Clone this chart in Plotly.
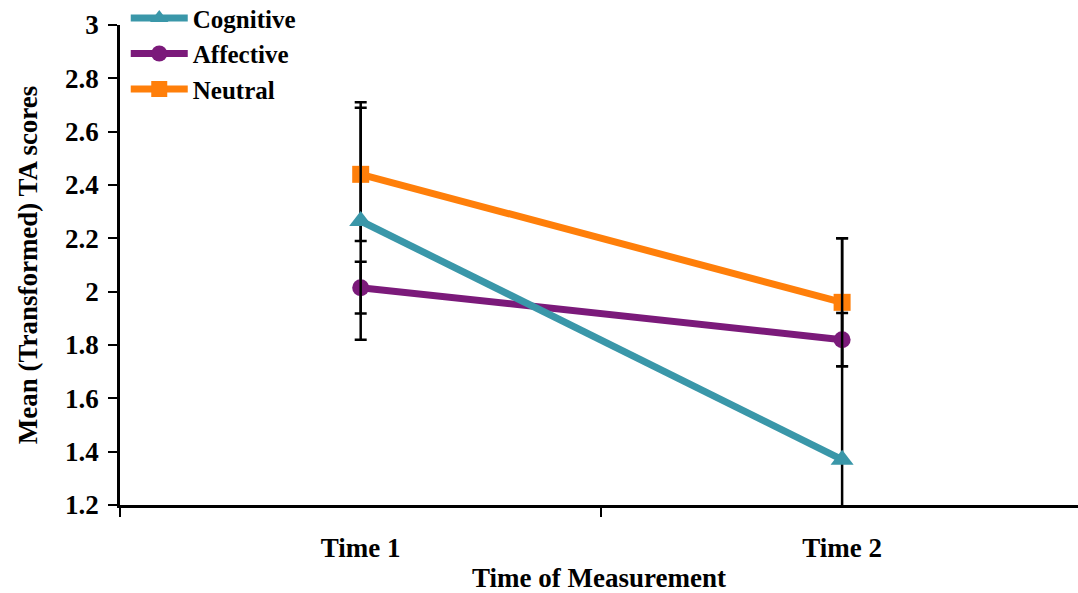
import plotly.graph_objects as go

times = ["Time 1", "Time 2"]
cognitive = [2.265, 1.37]
affective = [2.015, 1.82]
neutral = [2.44, 1.96]
cognitive_err = [0.445, 0.83]
affective_err = [0.097, 0.10]
neutral_err = [0.25, 0.24]

yticks = [1.2, 1.4, 1.6, 1.8, 2, 2.2, 2.4, 2.6, 2.8, 3]

FONT = "Liberation Serif"
FS = 27
series = [
    ("Neutral", neutral, neutral_err, "#FF7F0A", "square", 17, 3),
    ("Affective", affective, affective_err, "#7B1A7A", "circle", 17, 2),
    ("Cognitive", cognitive, cognitive_err, "#3A97A9", "triangle-up", 20, 1),
]

fig = go.Figure()
for name, vals, err, col, sym, size, rank in series:
    fig.add_trace(go.Scatter(
        x=times, y=vals, name=name, mode="lines+markers",
        line=dict(color=col, width=7),
        marker=dict(color=col, symbol=sym, size=size),
        error_y=dict(type="data", array=err, visible=True, color="black",
                     thickness=2.5, width=6),
        legendrank=rank,
    ))

fig.update_layout(
    width=1078, height=593,
    margin=dict(l=120, r=0, t=25, b=88, autoexpand=False),
    paper_bgcolor="white", plot_bgcolor="white",
    font=dict(family=FONT, size=FS, color="black", weight="bold"),
    showlegend=True,
    legend=dict(x=0.006, y=1.062, xanchor="left", yanchor="top",
                bgcolor="rgba(0,0,0,0)", itemwidth=57, tracegroupgap=0,
                font=dict(family=FONT, size=25, color="black", weight="bold")),
    xaxis=dict(
        type="category", range=[-0.5, 1.49], tickson="boundaries",
        automargin=False,
        showline=True, linecolor="black", linewidth=2.5,
        ticks="outside", ticklen=9, tickwidth=2, tickcolor="black",
        showgrid=False, zeroline=False, ticklabelstandoff=17,
        title=dict(text="Time of Measurement", standoff=9,
                   font=dict(family=FONT, size=FS, weight="bold")),
    ),
    yaxis=dict(
        range=[1.2, 3], tickvals=yticks, ticktext=[f"{v:g}" for v in yticks],
        automargin=False,
        showline=True, linecolor="black", linewidth=2.5,
        ticks="outside", ticklen=9, tickwidth=2, tickcolor="black",
        showgrid=False, zeroline=False, ticklabelstandoff=4,
        title=dict(text="Mean (Transformed) TA scores", standoff=20,
                   font=dict(family=FONT, size=FS, weight="bold")),
    ),
)

fig.write_html("out.html", config={"displayModeBar": False},
               post_script="document.body.style.margin='0';document.body.style.padding='0';")
